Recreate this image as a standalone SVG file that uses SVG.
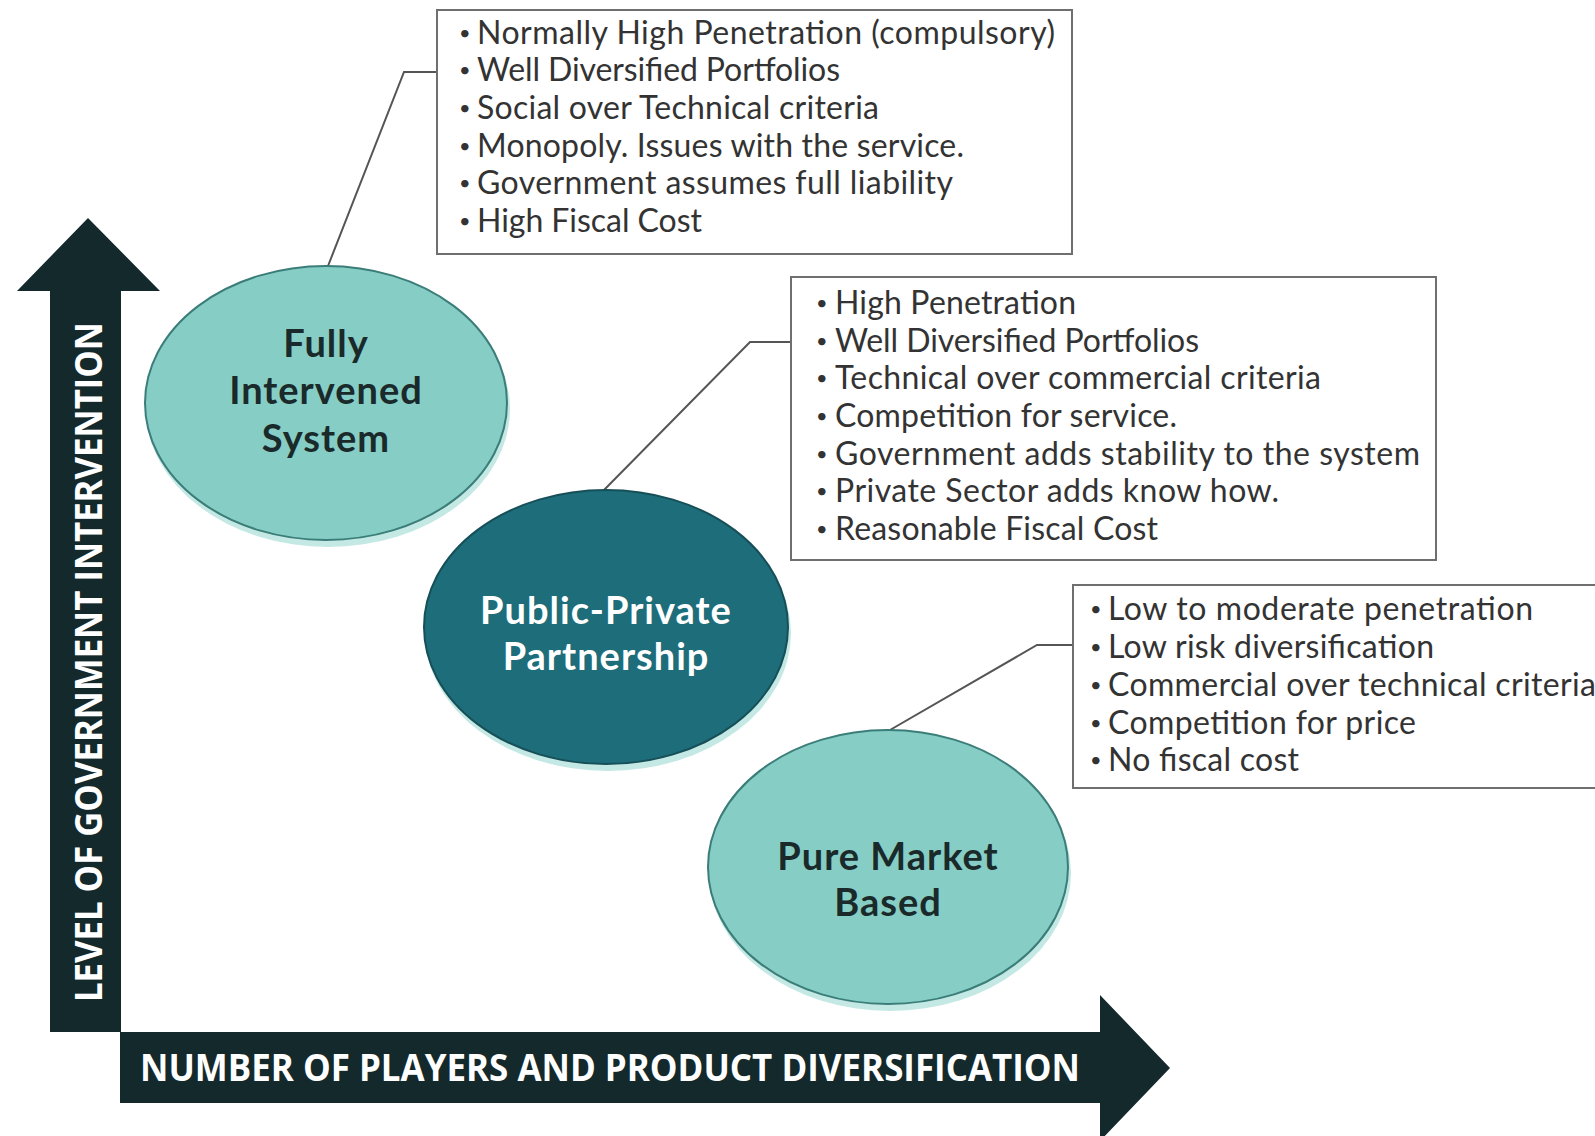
<svg xmlns="http://www.w3.org/2000/svg" width="1595" height="1136" viewBox="0 0 1595 1136">
<defs>
<style>
.axis{fill:#14292b}
.axt{font-family:"Open Sans","Liberation Sans",sans-serif;font-weight:700;font-size:38px;fill:#ffffff}
.box{fill:#ffffff;stroke:#6f6f6f;stroke-width:2}
.bt{font-family:Lato,"Liberation Sans",sans-serif;font-size:32px;fill:#333333}
.bul{font-family:Lato,"Liberation Sans",sans-serif;font-size:20px;fill:#333333}
.light{fill:#86cdc5;stroke:#3b7d78;stroke-width:2}
.dark{fill:#1d6d7a;stroke:#174f58;stroke-width:2}
.glow{fill:#c4e9e5}
.nt{font-family:Lato,"Liberation Sans",sans-serif;font-weight:700;font-size:38px;letter-spacing:1px;text-anchor:middle}
.conn{fill:none;stroke:#555555;stroke-width:2}
</style>
</defs>
<rect width="1595" height="1136" fill="#ffffff"/>

<g id="axis-y">
<polygon class="axis" points="50,1032 50,291 17,291 88,218 160,291 121,291 121,1032"/>
<text class="axt" transform="translate(102,1002) rotate(-90)" textLength="680" lengthAdjust="spacingAndGlyphs">LEVEL OF GOVERNMENT INTERVENTION</text>
</g>
<g id="axis-x">
<polygon class="axis" points="120,1032 1100,1032 1100,995 1170,1068 1100,1141 1100,1103 120,1103"/>
<text class="axt" x="140" y="1081" textLength="940" lengthAdjust="spacingAndGlyphs">NUMBER OF PLAYERS AND PRODUCT DIVERSIFICATION</text>
</g>

<g id="connectors">
<polyline class="conn" points="328,266 404,72 437,72"/>
<polyline class="conn" points="604,490 750,342 791,342"/>
<polyline class="conn" points="890,730 1037,645 1073,645"/>
</g>

<g id="node-fully">
<ellipse class="glow" cx="328" cy="409" rx="182" ry="138"/>
<ellipse class="light" cx="326" cy="403" rx="181" ry="137"/>
<text class="nt" fill="#1a2a2a"><tspan x="326" y="357">Fully</tspan><tspan x="326" y="404">Intervened</tspan><tspan x="326" y="452">System</tspan></text>
</g>

<g id="node-ppp">
<ellipse class="glow" cx="608" cy="633" rx="183" ry="138"/>
<ellipse class="dark" cx="606" cy="627" rx="182" ry="137"/>
<text class="nt" fill="#ffffff"><tspan x="606" y="624">Public-Private</tspan><tspan x="606" y="670">Partnership</tspan></text>
</g>

<g id="node-market">
<ellipse class="glow" cx="890" cy="873" rx="181" ry="138"/>
<ellipse class="light" cx="888" cy="867" rx="180" ry="137"/>
<text class="nt" fill="#1a2a2a"><tspan x="888" y="870">Pure Market</tspan><tspan x="888" y="916">Based</tspan></text>
</g>

<g id="box-fully">
<rect class="box" x="437" y="10" width="635" height="244"/>
<g class="bul"><text x="459" y="40">•</text><text x="459" y="77">•</text><text x="459" y="115">•</text><text x="459" y="153">•</text><text x="459" y="190">•</text><text x="459" y="228">•</text></g>
<g class="bt">
<text x="477" y="44" textLength="578">Normally High Penetration (compulsory)</text>
<text x="477" y="81" textLength="363">Well Diversified Portfolios</text>
<text x="477" y="119" textLength="402">Social over Technical criteria</text>
<text x="477" y="157" textLength="487">Monopoly. Issues with the service.</text>
<text x="477" y="194" textLength="476">Government assumes full liability</text>
<text x="477" y="232" textLength="225">High Fiscal Cost</text>
</g>
</g>

<g id="box-ppp">
<rect class="box" x="791" y="277" width="645" height="283"/>
<g class="bul"><text x="816" y="310">•</text><text x="816" y="348">•</text><text x="816" y="385">•</text><text x="816" y="423">•</text><text x="816" y="461">•</text><text x="816" y="498">•</text><text x="816" y="536">•</text></g>
<g class="bt">
<text x="835" y="314" textLength="241">High Penetration</text>
<text x="835" y="352" textLength="364">Well Diversified Portfolios</text>
<text x="835" y="389" textLength="486">Technical over commercial criteria</text>
<text x="835" y="427" textLength="342">Competition for service.</text>
<text x="835" y="465" textLength="585">Government adds stability to the system</text>
<text x="835" y="502" textLength="444">Private Sector adds know how.</text>
<text x="835" y="540" textLength="323">Reasonable Fiscal Cost</text>
</g>
</g>

<g id="box-market">
<rect class="box" x="1073" y="585" width="540" height="203"/>
<g class="bul"><text x="1090" y="616">•</text><text x="1090" y="654">•</text><text x="1090" y="692">•</text><text x="1090" y="730">•</text><text x="1090" y="767">•</text></g>
<g class="bt">
<text x="1108" y="620" textLength="425">Low to moderate penetration</text>
<text x="1108" y="658" textLength="326">Low risk diversification</text>
<text x="1108" y="696" textLength="488">Commercial over technical criteria</text>
<text x="1108" y="734" textLength="308">Competition for price</text>
<text x="1108" y="771" textLength="191">No fiscal cost</text>
</g>
</g>
</svg>
